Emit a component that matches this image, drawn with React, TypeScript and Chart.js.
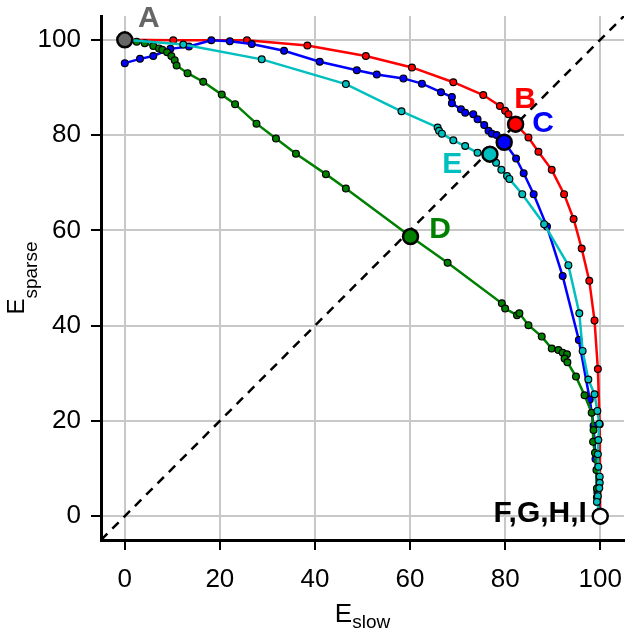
import React, { useEffect, useRef } from "react";
import { Chart, registerables } from "chart.js";

Chart.register(...registerables);

// ---- data (E_slow, E_sparse) ----
const tickValues = [0, 20, 40, 60, 80, 100];

const redSeries: [number, number][] = [
  [0, 100], [10.2, 99.9], [25.7, 99.9], [38.4, 98.8], [50.7, 96.6], [60.4, 94.2],
  [69.1, 91.1], [75.4, 88.4], [78.9, 86.1], [80, 85.1], [80.7, 84.4], [82.2, 82.3],
  [84.9, 79.5], [87, 76.5], [89.8, 72.7], [92.4, 67.6], [94.4, 62.4], [96.1, 56.2],
  [97.7, 49.4], [98.8, 41.1], [99.5, 30.9], [99.9, 19.3], [100, 0],
];

const blueSeries: [number, number][] = [
  [0, 95.1], [3.2, 96], [6, 96.6], [9.6, 98.1], [13.5, 98.6], [18.2, 99.9],
  [22.1, 99.7], [26.7, 99.1], [33.5, 97.7], [41, 95.4], [48.8, 93.6], [53, 92.7],
  [58.6, 91.9], [62.5, 90.8], [66.5, 89], [68.8, 88], [68.8, 86.7], [70.7, 85.4],
  [71.6, 84.7], [73.3, 84.4], [74.2, 83.3], [75.6, 82.1], [76.5, 80.9], [77.2, 80.3],
  [78.2, 80], [79.8, 78.5], [82.3, 75.1], [83.9, 72], [86, 67.6], [88.8, 60.8],
  [92.1, 50.4], [95.5, 37], [97.8, 24.5], [98.6, 19], [99, 12], [99.4, 5], [100, 0],
];

const cyanSeries: [number, number][] = [
  [0, 100], [12.3, 99], [28.8, 95.9], [46.5, 90.7], [58.2, 85], [65.8, 81.6],
  [66.1, 80.9], [66.7, 80.3], [69.1, 78.9], [71.6, 77.7], [74.2, 76.3], [76.8, 76],
  [78.1, 74.2], [79.2, 72.7], [80.4, 71.4], [80.9, 70.8], [83.6, 67.6], [88.2, 61.3],
  [93.3, 52.7], [95.6, 42.6], [96.3, 34.7], [97.5, 28.7], [98.8, 25.6], [99.4, 22.1],
  [99.8, 19.4], [99.6, 16], [99.5, 13], [99.6, 10.4], [99.9, 8.3], [99.9, 7],
  [99.8, 5.9], [99.5, 4.2], [99.3, 3], [100, 0],
];

const greenSeries: [number, number][] = [
  [0, 100], [2.5, 99.6], [4.2, 99.3], [6, 98.7], [7.2, 98.2], [7.9, 97.9],
  [8.9, 97.4], [9.8, 96.6], [10.5, 95.7], [10.9, 94.6], [13.2, 93], [16.5, 91.2],
  [20.4, 88.5], [23.2, 86.5], [27.7, 82.4], [31.8, 79.3], [36, 76.1], [42.3, 71.8],
  [46.5, 68.8], [60.1, 58.7], [67.9, 53.2], [79.3, 44.7], [80, 43.6], [82.5, 42.2],
  [83, 42.6], [84.9, 40.1], [87.7, 37.7], [89.8, 35.2], [91.2, 34.9], [92.1, 34.3],
  [93, 34], [92.5, 33.1], [93.1, 32.3], [94.9, 29.3], [96.7, 25.4], [98.2, 21.7],
  [98.6, 18.1], [98.5, 15.6], [98.9, 13.3], [99.2, 9.7], [99.3, 5.8], [99.3, 4],
  [100, 0],
];

const diagonal: [number, number][] = [[-5, -5], [105, 105]];

const markerNames = ["A", "B", "C", "D", "E", "F,G,H,I"];
const markerPoints: [number, number][] = [
  [0, 100], [82.2, 82.3], [79.8, 78.5], [60.1, 58.7], [76.8, 76], [100, 0],
];

// ---- styling ----
const RED = "#ff0000";
const BLUE = "#0000ff";
const CYAN = "#00bfbf";
const GREEN = "#008000";
const GREY = "#666666";
const markerColors = [GREY, RED, BLUE, GREEN, CYAN, "#ffffff"];
const labelColors = [GREY, RED, BLUE, GREEN, CYAN, "#000000"];
// label anchor (data coords of text baseline) and alignment
const labelAnchors: { x: number; y: number; align: CanvasTextAlign }[] = [
  { x: 5.05, y: 102.7, align: "center" },
  { x: 84.2, y: 85.7, align: "center" },
  { x: 88.0, y: 80.7, align: "center" },
  { x: 66.3, y: 58.4, align: "center" },
  { x: 68.9, y: 72.1, align: "center" },
  { x: 97.2, y: -1.2, align: "right" },
];

const FONT = '"Liberation Sans", Arial, Helvetica, sans-serif';

const toXY = (arr: [number, number][]) => arr.map(([x, y]) => ({ x, y }));

const textPlugin = {
  id: "customTexts",
  afterDraw(chart: any) {
    const { ctx, scales, chartArea } = chart;
    const xs = scales.x;
    const ys = scales.y;
    ctx.save();
    // point labels
    markerNames.forEach((name, i) => {
      const a = labelAnchors[i];
      ctx.font = `bold 30px ${FONT}`;
      ctx.fillStyle = labelColors[i];
      ctx.textAlign = a.align;
      ctx.textBaseline = "alphabetic";
      ctx.fillText(name, xs.getPixelForValue(a.x), ys.getPixelForValue(a.y));
    });

    // x-axis title E_slow
    ctx.fillStyle = "#000";
    ctx.textAlign = "left";
    ctx.textBaseline = "alphabetic";
    ctx.font = `26px ${FONT}`;
    const wE = ctx.measureText("E").width;
    ctx.font = `19px ${FONT}`;
    const wSub = ctx.measureText("slow").width;
    const cx = (chartArea.left + chartArea.right) / 2;
    const sx = cx - (wE + wSub) / 2;
    ctx.font = `26px ${FONT}`;
    ctx.fillText("E", sx, 621.7);
    ctx.font = `19px ${FONT}`;
    ctx.fillText("slow", sx + wE, 628.3);

    // y-axis title E_sparse (rotated)
    ctx.save();
    ctx.rotate(-Math.PI / 2);
    ctx.font = `24px ${FONT}`;
    const wE2 = ctx.measureText("E").width;
    ctx.font = `19px ${FONT}`;
    const wSub2 = ctx.measureText("sparse").width;
    const cy = (chartArea.top + chartArea.bottom) / 2;
    const start = -(cy + (wE2 + wSub2) / 2);
    ctx.font = `24px ${FONT}`;
    ctx.fillText("E", start, 23.5);
    ctx.font = `19px ${FONT}`;
    ctx.fillText("sparse", start + wE2, 36.5);
    ctx.restore();

    ctx.restore();
  },
};

function lineDataset(data: [number, number][], color: string, order: number) {
  return {
    data: toXY(data),
    showLine: true,
    borderColor: color,
    borderWidth: 2.5,
    backgroundColor: color,
    pointBackgroundColor: color,
    pointBorderColor: "#000",
    pointBorderWidth: 1.2,
    pointRadius: 3.4,
    pointHoverRadius: 3.4,
    tension: 0,
    order,
    clip: 6,
  };
}

export default function App() {
  const canvasRef = useRef<HTMLCanvasElement | null>(null);

  useEffect(() => {
    const canvas = canvasRef.current;
    if (!canvas) return;

    const axisCommon = {
      type: "linear" as const,
      min: -5,
      max: 105,
      afterBuildTicks: (s: any) => {
        s.ticks = tickValues.map((v) => ({ value: v }));
      },
      grid: {
        color: "#c8c8c8",
        lineWidth: 2,
        tickColor: "#000",
        tickLength: 10,
        tickWidth: 2,
        drawOnChartArea: true,
      },
      border: { color: "#000", width: 3, display: true },
      title: { display: false },
    };

    const chart = new Chart(canvas, {
      type: "scatter",
      data: {
        datasets: [
          {
            data: toXY(diagonal),
            showLine: true,
            borderColor: "#000",
            borderWidth: 2.5,
            borderDash: [9, 7],
            pointRadius: 0,
            order: 20,
          },
          lineDataset(redSeries, RED, 15),
          lineDataset(blueSeries, BLUE, 14),
          lineDataset(greenSeries, GREEN, 13),
          lineDataset(cyanSeries, CYAN, 12),
          {
            data: toXY(markerPoints),
            showLine: false,
            pointBackgroundColor: markerColors,
            pointBorderColor: "#000",
            pointBorderWidth: 2.5,
            pointRadius: 7.5,
            pointHoverRadius: 7.5,
            order: 0,
            clip: false,
          },
        ] as any,
      },
      options: {
        responsive: false,
        animation: false,
        events: [],
        layout: { autoPadding: false, padding: { top: 16, right: 1, left: 0, bottom: 0 } },
        plugins: {
          legend: { display: false },
          tooltip: { enabled: false },
          title: { display: false },
        },
        scales: {
          x: {
            ...axisCommon,
            position: "bottom",
            afterFit: (s: any) => {
              s.height = 98;
              s.paddingLeft = 0;
              s.paddingRight = 0;
            },
            ticks: {
              color: "#000",
              font: { family: FONT, size: 26 },
              padding: 14,
              maxRotation: 0,
              autoSkip: false,
            },
          },
          y: {
            ...axisCommon,
            position: "left",
            afterFit: (s: any) => {
              s.width = 101;
              s.paddingTop = 0;
              s.paddingBottom = 0;
            },
            ticks: {
              color: "#000",
              font: { family: FONT, size: 26 },
              padding: 10,
              autoSkip: false,
            },
          },
        } as any,
      },
      plugins: [textPlugin],
    });

    return () => {
      chart.destroy();
    };
  }, []);

  return (
    <div style={{ position: "absolute", left: 0, top: 0, width: 625, height: 638 }}>
      <canvas ref={canvasRef} width={625} height={638} style={{ display: "block" }} />
    </div>
  );
}
